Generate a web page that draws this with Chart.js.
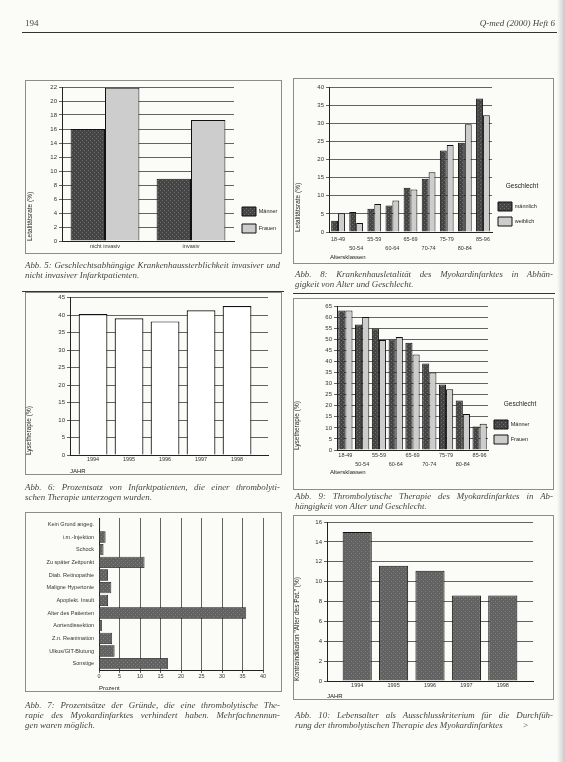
<!DOCTYPE html>
<html>
<head>
<meta charset="utf-8">
<script src="https://cdn.jsdelivr.net/npm/chart.js@4.4.0/dist/chart.umd.min.js"></script>
<style>
body{margin:0;width:565px;height:762px;background:#fbfbf8;position:relative;overflow:hidden;font-family:"Liberation Serif",serif;color:#333;}
.box{position:absolute;}
.frame{position:absolute;border:1px solid #8c8c8c;box-sizing:border-box;}
.rule{position:absolute;height:1px;background:#333;}
.cap{position:absolute;font-style:italic;font-size:8.9px;line-height:9.8px;color:#444;filter:grayscale(1);}
.cap span{display:block;text-align:justify;text-align-last:justify;white-space:nowrap;}
.cap span.last{text-align-last:left;}
.kopf{position:absolute;top:18px;font-size:9px;color:#444;filter:grayscale(1);}
.achse{position:absolute;font-family:"Liberation Sans",sans-serif;font-size:6px;color:#222;filter:grayscale(1);}
.rand{position:absolute;right:0;top:0;width:8px;height:762px;background:linear-gradient(to right,#fbfbf8,#c9c9c9);}
</style>
</head>
<body>

<div class="kopf" style="left:25px;">194</div>
<div class="kopf" style="right:10px;font-style:italic;">Q-med (2000) Heft 6</div>
<div class="rule" style="left:22px;top:32px;width:535px;"></div>
<div class="rand"></div>

<!-- Rahmen -->
<div class="frame" style="left:25px;top:80px;width:257px;height:174px;"></div>
<div class="frame" style="left:293px;top:78px;width:261px;height:186px;"></div>
<div class="frame" style="left:25px;top:292px;width:257px;height:183px;"></div>
<div class="frame" style="left:293px;top:298px;width:261px;height:192px;"></div>
<div class="frame" style="left:25px;top:512px;width:257px;height:180px;"></div>
<div class="frame" style="left:293px;top:515px;width:261px;height:185px;"></div>
<div class="rule" style="left:22px;top:291px;width:262px;"></div>
<div class="rule" style="left:293px;top:293px;width:262px;"></div>

<div class="box" style="left:26px;top:80px;width:256px;height:174px;"><canvas id="abb5"></canvas></div>
<div class="box" style="left:294px;top:78px;width:260px;height:186px;"><canvas id="abb8"></canvas></div>
<div class="box" style="left:25px;top:292px;width:257px;height:183px;"><canvas id="abb6"></canvas></div>
<div class="box" style="left:293px;top:298px;width:261px;height:192px;"><canvas id="abb9"></canvas></div>
<div class="box" style="left:25px;top:512px;width:257px;height:180px;"><canvas id="abb7"></canvas></div>
<div class="box" style="left:293px;top:515px;width:261px;height:185px;"><canvas id="abb10"></canvas></div>

<div class="achse" style="left:330px;top:254px;">Altersklassen</div>
<div class="achse" style="left:330px;top:469px;">Altersklassen</div>

<div class="cap" style="left:25px;top:261px;width:255px;">
<span>Abb. 5: Geschlechtsabhängige Krankenhaussterblichkeit invasiver und</span>
<span class="last">nicht invasiver Infarktpatienten.</span>
</div>
<div class="cap" style="left:295px;top:270px;width:258px;">
<span>Abb. 8: Krankenhausletalität des Myokardinfarktes in Abhän-</span>
<span class="last">gigkeit von Alter und Geschlecht.</span>
</div>
<div class="cap" style="left:25px;top:483px;width:255px;">
<span>Abb. 6: Prozentsatz von Infarktpatienten, die einer thrombolyti-</span>
<span class="last">schen Therapie unterzogen wurden.</span>
</div>
<div class="cap" style="left:295px;top:492px;width:258px;">
<span>Abb. 9: Thrombolytische Therapie des Myokardinfarktes in Ab-</span>
<span class="last">hängigkeit von Alter und Geschlecht.</span>
</div>
<div class="cap" style="left:25px;top:701px;width:255px;">
<span>Abb. 7: Prozentsätze der Gründe, die eine thrombolytische The-</span>
<span>rapie des Myokardinfarktes verhindert haben. Mehrfachnennun-</span>
<span class="last">gen waren möglich.</span>
</div>
<div class="cap" style="left:295px;top:711px;width:258px;">
<span>Abb. 10: Lebensalter als Ausschlusskriterium für die Durchfüh-</span>
<span class="last">rung der thrombolytischen Therapie des Myokardinfarktes &nbsp;&nbsp;&nbsp;&nbsp;&nbsp;&nbsp;&nbsp;&nbsp;&gt;</span>
</div>

<script>
/* ============================================================
   DATEN
============================================================ */

// Abb. 5
const gruppenInvasiv=["nicht invasiv","invasiv"];
const letalitaetMaenner=[16.0,8.9];
const letalitaetFrauen=[21.9,17.3];

// Abb. 8 / Abb. 9
const altersklassen=["18-49","50-54","55-59","60-64","65-69","70-74","75-79","80-84","85-96"];
const letalitaetMaennlich=[3.1,5.5,6.4,7.3,12.2,14.7,22.5,24.6,36.8];
const letalitaetWeiblich=[5.2,2.5,7.7,8.7,11.7,16.5,24.0,29.7,32.2];
const lyseMaenner=[63.0,56.7,54.8,49.9,48.4,39.1,29.6,22.3,10.6];
const lyseFrauen=[63.0,60.0,49.6,51.0,43.1,35.0,27.4,16.3,11.8];

// Abb. 6 / Abb. 10
const jahre=["1994","1995","1996","1997","1998"];
const lyseJahr=[40.3,39.1,38.2,41.4,42.6];
const kontraAlter=[15.0,11.6,11.1,8.6,8.6];

// Abb. 7
const gruende=["Kein Grund angeg.","i.m.-Injektion","Schock","Zu später Zeitpunkt","Diab. Retinopathie","Maligne Hypertonie","Apoplekt. Insult","Alter des Patienten","Aortendissektion","Z.n. Reanimation","Ulkus/GIT-Blutung","Sonstige"];
const gruendeProzent=[0.3,1.6,1.1,11.1,2.2,3.0,2.2,35.9,0.7,3.2,3.8,16.8];

/* ============================================================
   HILFSFUNKTIONEN
============================================================ */

const schrift="Liberation Sans";

function muster(basis,punkt){
    const c=document.createElement("canvas");
    c.width=4;c.height=4;
    const x=c.getContext("2d");
    x.fillStyle=basis;x.fillRect(0,0,4,4);
    x.fillStyle=punkt;x.fillRect(0,0,1,1);x.fillRect(2,2,1,1);
    return x.createPattern(c,"repeat");
}

const dunkel=muster("#454545","#6e6e6e");
const hell="#cdcdcd";
const mittel=muster("#626262","#818181");

function yAchse(max,schritt,titel,breite){
    return {
        min:0,max:max,
        ticks:{stepSize:schritt,font:{size:6,family:schrift},color:"#333",padding:2},
        grid:{color:"#3c3c3c",lineWidth:0.8,tickLength:3},
        border:{color:"#222",width:1},
        title:{display:!!titel,text:titel,align:"start",font:{size:6.5,family:schrift},color:"#222",padding:{top:0,bottom:2}},
        afterFit(s){s.width=breite;}
    };
}

function xAchse(labels,titel,hoehe,versetzt,abstand){
    return {
        ticks:{
            font:{size:5.5,family:schrift,lineHeight:1.6},color:"#333",padding:abstand,autoSkip:false,maxRotation:0,
            callback(v,i){return versetzt&&i%2?["",labels[i]]:labels[i];}
        },
        grid:{display:false,drawTicks:false},
        border:{color:"#222",width:1},
        title:{display:!!titel,text:titel,align:"start",font:{size:6,family:schrift},color:"#222",padding:{top:1,bottom:0}},
        afterFit(s){s.height=hoehe;}
    };
}

// lineare Jahresachse, damit die Balken wie im Original vom Achsenanfang abgerückt sind
function jahrAchse(min,max,titel,hoehe){
    return {
        type:"linear",min:min,max:max,offset:false,
        ticks:{
            stepSize:1,includeBounds:false,font:{size:5.5,family:schrift},color:"#333",padding:1,
            callback(v){return Number.isInteger(v)&&jahre[v]?jahre[v]:"";}
        },
        grid:{display:false,drawTicks:false},
        border:{color:"#222",width:1},
        title:{display:true,text:titel,align:"start",font:{size:6,family:schrift},color:"#222",padding:{top:1,bottom:0}},
        afterFit(s){s.height=hoehe;}
    };
}

function legendeBreite(breite){
    return {
        id:"legendeBreite",
        beforeLayout(chart){
            const lg=chart.legend;
            if(lg&&!lg._fest){
                const f=lg.fit.bind(lg);
                lg.fit=function(){f();this.width=breite;};
                lg._fest=true;
            }
        }
    };
}

function legende(titel,abstand){
    return {
        position:"right",align:"end",fullSize:false,
        title:{display:!!titel,text:titel,font:{size:6.5,family:schrift},color:"#222",padding:{top:0,bottom:5}},
        labels:{boxWidth:14,boxHeight:9,font:{size:5.5,family:schrift},color:"#222",padding:abstand}
    };
}

Chart.defaults.animation=false;
Chart.defaults.responsive=true;
Chart.defaults.maintainAspectRatio=false;
Chart.defaults.devicePixelRatio=1;

/* ============================================================
   ABB. 5
============================================================ */

new Chart(document.getElementById("abb5"),{
    type:"bar",
    data:{
        labels:gruppenInvasiv,
        datasets:[
            {label:"Männer",data:letalitaetMaenner,backgroundColor:dunkel,borderColor:"#111",borderWidth:1,categoryPercentage:0.8,barPercentage:1},
            {label:"Frauen",data:letalitaetFrauen,backgroundColor:hell,borderColor:"#111",borderWidth:1,categoryPercentage:0.8,barPercentage:1}
        ]
    },
    options:{
        layout:{padding:{top:7,right:2,left:0,bottom:0}},
        plugins:{legend:legende("",8),tooltip:{enabled:false}},
        scales:{
            x:xAchse(gruppenInvasiv,"",13,false,1),
            y:yAchse(22,2,"Letalitätsrate (%)",36)
        }
    },
    plugins:[legendeBreite(46)]
});

/* ============================================================
   ABB. 8
============================================================ */

new Chart(document.getElementById("abb8"),{
    type:"bar",
    data:{
        labels:altersklassen,
        datasets:[
            {label:"männlich",data:letalitaetMaennlich,backgroundColor:dunkel,borderColor:"#111",borderWidth:1,categoryPercentage:0.76,barPercentage:1},
            {label:"weiblich",data:letalitaetWeiblich,backgroundColor:hell,borderColor:"#111",borderWidth:1,categoryPercentage:0.76,barPercentage:1}
        ]
    },
    options:{
        layout:{padding:{top:9,right:2,left:0,bottom:0}},
        plugins:{legend:legende("Geschlecht",6),tooltip:{enabled:false}},
        scales:{
            x:xAchse(altersklassen,"",32,true,3),
            y:yAchse(40,5,"Letalitätsrate (%)",35)
        }
    },
    plugins:[legendeBreite(60)]
});

/* ============================================================
   ABB. 6
============================================================ */

new Chart(document.getElementById("abb6"),{
    type:"bar",
    data:{
        datasets:[
            {label:"Lysetherapie",data:lyseJahr.map((w,i)=>({x:i,y:w})),backgroundColor:"#ffffff",borderColor:"#111",borderWidth:1.2,categoryPercentage:1,barPercentage:0.8}
        ]
    },
    options:{
        layout:{padding:{top:5,right:14,left:0,bottom:0}},
        plugins:{legend:{display:false},tooltip:{enabled:false}},
        scales:{
            x:jahrAchse(-0.64,4.86,"JAHR",20),
            y:yAchse(45,5,"Lysetherapie (%)",45)
        }
    }
});

/* ============================================================
   ABB. 9
============================================================ */

new Chart(document.getElementById("abb9"),{
    type:"bar",
    data:{
        labels:altersklassen,
        datasets:[
            {label:"Männer",data:lyseMaenner,backgroundColor:dunkel,borderColor:"#111",borderWidth:1,categoryPercentage:0.85,barPercentage:1},
            {label:"Frauen",data:lyseFrauen,backgroundColor:hell,borderColor:"#111",borderWidth:1,categoryPercentage:0.85,barPercentage:1}
        ]
    },
    options:{
        layout:{padding:{top:8,right:2,left:0,bottom:0}},
        plugins:{legend:legende("Geschlecht",6),tooltip:{enabled:false}},
        scales:{
            x:xAchse(altersklassen,"",40,true,1),
            y:yAchse(65,5,"Lysetherapie (%)",44)
        }
    },
    plugins:[legendeBreite(64)]
});

/* ============================================================
   ABB. 7
============================================================ */

new Chart(document.getElementById("abb7"),{
    type:"bar",
    data:{
        labels:gruende,
        datasets:[
            {label:"Prozent",data:gruendeProzent,backgroundColor:mittel,borderColor:"#111",borderWidth:0.8,categoryPercentage:1,barPercentage:0.9}
        ]
    },
    options:{
        indexAxis:"y",
        layout:{padding:{top:6,right:19,left:0,bottom:0}},
        plugins:{legend:{display:false},tooltip:{enabled:false}},
        scales:{
            x:{
                min:0,max:40,
                ticks:{stepSize:5,font:{size:5.5,family:schrift},color:"#333",padding:0},
                grid:{color:"#3c3c3c",lineWidth:0.8,tickLength:3},
                border:{color:"#222",width:1},
                title:{display:true,text:"Prozent",align:"start",font:{size:6,family:schrift},color:"#222",padding:{top:2,bottom:0}},
                afterFit(s){s.height=22;}
            },
            y:{
                ticks:{font:{size:5.5,family:schrift},color:"#333",padding:2,autoSkip:false},
                grid:{display:false,tickLength:3},
                border:{color:"#222",width:1},
                afterFit(s){s.width=74;}
            }
        }
    }
});

/* ============================================================
   ABB. 10
============================================================ */

new Chart(document.getElementById("abb10"),{
    type:"bar",
    data:{
        datasets:[
            {label:"Alter des Pat.",data:kontraAlter.map((w,i)=>({x:i,y:w})),backgroundColor:mittel,borderColor:"#111",borderWidth:1,categoryPercentage:1,barPercentage:0.8}
        ]
    },
    options:{
        layout:{padding:{top:7,right:21,left:0,bottom:0}},
        plugins:{legend:{display:false},tooltip:{enabled:false}},
        scales:{
            x:jahrAchse(-0.83,4.83,"JAHR",19),
            y:yAchse(16,2,"Kontraindikation \"Alter des Pat.\" (%)",34)
        }
    }
});
</script>
</body>
</html>
